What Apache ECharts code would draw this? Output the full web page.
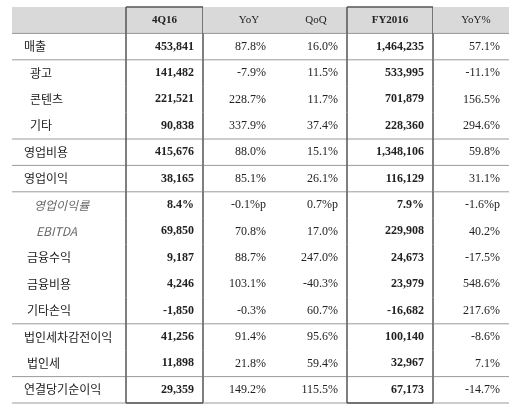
<!DOCTYPE html>
<html><head><meta charset="utf-8">
<script src="https://cdn.jsdelivr.net/npm/echarts@6/dist/echarts.min.js"></script>
<style>html,body{margin:0;padding:0;background:#fff}#c{width:529px;height:411px}</style>
</head><body><div id="c"></div>
<script>
const headers = ['', '4Q16', 'YoY', 'QoQ', 'FY2016', 'YoY%'];
const rowLabels = ['매출','광고','콘텐츠','기타','영업비용','영업이익','영업이익률','EBITDA','금융수익','금융비용','기타손익','법인세차감전이익','법인세','연결당기순이익'];
const q4 = ['453,841','141,482','221,521','90,838','415,676','38,165','8.4%','69,850','9,187','4,246','-1,850','41,256','11,898','29,359'];
const yoy = ['87.8%','-7.9%','228.7%','337.9%','88.0%','85.1%','-0.1%p','70.8%','88.7%','103.1%','-0.3%','91.4%','21.8%','149.2%'];
const qoq = ['16.0%','11.5%','11.7%','37.4%','15.1%','26.1%','0.7%p','17.0%','247.0%','-40.3%','60.7%','95.6%','59.4%','115.5%'];
const fy = ['1,464,235','533,995','701,879','228,360','1,348,106','116,129','7.9%','229,908','24,673','23,979','-16,682','100,140','32,967','67,173'];
const yoyPct = ['57.1%','-11.1%','156.5%','294.6%','59.8%','31.1%','-1.6%p','40.2%','-17.5%','548.6%','217.6%','-8.6%','7.1%','-14.7%'];

// layout (not data)
const edges = [12, 126, 203, 275, 347, 433, 509];
const indents = [12, 18, 18, 18, 12, 12, 22, 24, 15, 15, 15, 12, 15, 12];
const headerOffset = [0, 0, 10, 5, 0, 5];
const sepAfter = [0, 1, 4, 5, 6, 11, 13, 14];
const cols = [null, q4, yoy, qoq, fy, yoyPct];

const rowsCat = ['h'].concat(rowLabels);
const data = [];
for (let r = 0; r < rowsCat.length; r++) for (let c = 0; c < 6; c++) data.push([c, r]);

function renderItem(params, api) {
  const c = api.value(0), r = api.value(1);
  const center = api.coord([0, r]);
  const h = api.size([0, 1])[1];
  const x0 = api.coord([edges[c], r])[0], x1 = api.coord([edges[c + 1], r])[0];
  const y0 = center[1] - h / 2, y1 = center[1] + h / 2;
  const ch = [];
  if (r === 0) ch.push({type: 'rect', shape: {x: x0, y: y0, width: x1 - x0, height: h}, style: {fill: '#d9d9d9'}});
  if (sepAfter.indexOf(r) >= 0) ch.push({type: 'line', shape: {x1: x0, y1: y1, x2: x1, y2: y1}, style: {stroke: '#9a9a9a', lineWidth: 1}});
  if (c === 1 || c === 4) {
    ch.push({type: 'line', shape: {x1: x0, y1: y0, x2: x0, y2: y1}, style: {stroke: '#555', lineWidth: 1.5}});
    ch.push({type: 'line', shape: {x1: x1, y1: y0, x2: x1, y2: y1}, style: {stroke: '#555', lineWidth: 1.5}});
    if (r === 0) ch.push({type: 'line', shape: {x1: x0, y1: y0, x2: x1, y2: y0}, style: {stroke: '#555', lineWidth: 1.5}});
    if (r === rowsCat.length - 1) ch.push({type: 'line', shape: {x1: x0, y1: y1, x2: x1, y2: y1}, style: {stroke: '#555', lineWidth: 1.5}});
  }
  const italic = (r === 7 || r === 8);
  if (r === 0) {
    if (c > 0) ch.push({type: 'text', x: (x0 + x1) / 2 + headerOffset[c], y: center[1], style: {text: headers[c], align: 'center', verticalAlign: 'middle', font: (c === 1 || c === 4 ? 'bold ' : '') + '11px "Liberation Serif"', fill: '#222'}});
  } else if (c === 0) {
    ch.push({type: 'text', x: x0 + indents[r - 1], y: center[1], style: {text: rowLabels[r - 1], align: 'left', verticalAlign: 'middle', font: (italic ? 'italic ' : '') + '12px "Noto Sans CJK KR"', fill: italic ? '#666' : '#222'}});
  } else {
    ch.push({type: 'text', x: x1 - 9, y: center[1], style: {text: cols[c][r - 1], align: 'right', verticalAlign: 'middle', font: (c === 1 || c === 4 ? 'bold ' : '') + '12px "Liberation Serif"', fill: '#222'}});
  }
  return {type: 'group', children: ch};
}

const chart = echarts.init(document.getElementById('c'));
chart.setOption({
  animation: false,
  grid: {left: 0, right: 0, top: 7, bottom: 8},
  xAxis: {type: 'value', min: 0, max: 529, show: false},
  yAxis: {type: 'category', data: rowsCat, inverse: true, show: false},
  series: [{type: 'custom', renderItem: renderItem, data: data, clip: false}]
});
</script></body></html>
